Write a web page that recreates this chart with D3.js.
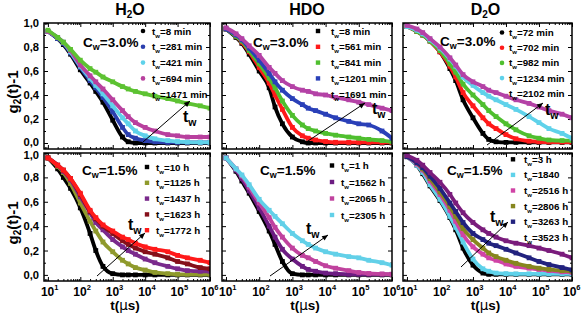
<!DOCTYPE html>
<html><head><meta charset="utf-8">
<script src="https://cdn.jsdelivr.net/npm/d3@7"></script>
<style>
body{margin:0;background:#fff}
svg{display:block}
text{font-family:"Liberation Sans",Arial,sans-serif;font-weight:bold;fill:#000}
</style>
</head><body>
<svg id="c" width="584" height="318"></svg>
<script>
// ---------------- DATA ----------------
const tValues = [10,20,30,50,100,200,300,500,1000,2000,3000,5000,1e4,2e4,5e4,1e5,2e5,5e5,1e6];
const xTickDecades = [10,100,1000,1e4,1e5,1e6];
const xTickExponents = ["1","2","3","4","5","6"];
const yTickValues = [0,0.2,0.4,0.6,0.8,1.0];
const yTickLabels = ["0,0","0,2","0,4","0,6","0,8","1,0"];
const solventTitles = [["H","2","O"],["HDO","",""],["D","2","O"]];
const concentrationLabels = ["3.0%","3.0%","3.0%","1.5%","1.5%","1.5%"];

// H2O, Cw = 3.0%
const h2o30Labels = ["8 min","281 min","421 min","694 min","1471 min"];
const h2o30Colors = ["#000000","#2b3fae","#5fd2ea","#b8409e","#5dc232"];
const h2o30Values = [
  [0.93,0.87,0.82,0.74,0.61,0.50,0.43,0.34,0.19,0.05,0.01,0.0,0,0,0,0,0,0,0],
  [0.93,0.87,0.83,0.75,0.63,0.52,0.46,0.38,0.26,0.13,0.07,0.04,0.02,0.01,0.005,0.005,0.005,0.005,0.005],
  [0.93,0.88,0.84,0.76,0.64,0.54,0.48,0.41,0.31,0.21,0.16,0.10,0.06,0.035,0.02,0.012,0.008,0.005,0.005],
  [0.93,0.88,0.84,0.77,0.65,0.56,0.51,0.45,0.36,0.27,0.22,0.17,0.13,0.10,0.07,0.06,0.05,0.05,0.05],
  [0.94,0.88,0.84,0.78,0.69,0.62,0.59,0.55,0.51,0.47,0.45,0.43,0.41,0.39,0.37,0.35,0.33,0.31,0.29]
];
// HDO, Cw = 3.0%
const hdo30Labels = ["8 min","561 min","841 min","1201 min","1691 min"];
const hdo30Colors = ["#000000","#ff1a1a","#4fbf2f","#2a40b8","#b442a6"];
const hdo30Values = [
  [0.95,0.88,0.83,0.74,0.60,0.46,0.30,0.16,0.05,0.01,0,0,0,0,0,0,0,0,0],
  [0.95,0.89,0.84,0.76,0.63,0.50,0.40,0.28,0.13,0.06,0.04,0.025,0.012,0.006,0.005,0.005,0.005,0.005,0.005],
  [0.95,0.89,0.85,0.77,0.66,0.54,0.46,0.35,0.23,0.15,0.12,0.10,0.08,0.065,0.05,0.04,0.03,0.02,0.01],
  [0.95,0.90,0.86,0.79,0.69,0.58,0.51,0.44,0.37,0.32,0.29,0.27,0.24,0.21,0.18,0.16,0.15,0.10,0.04],
  [0.96,0.91,0.87,0.81,0.73,0.63,0.58,0.52,0.47,0.44,0.43,0.41,0.40,0.38,0.36,0.34,0.32,0.29,0.27]
];
// D2O, Cw = 3.0%
const d2o30Labels = ["72 min","702 min","982 min","1234 min","2102 min"];
const d2o30Colors = ["#000000","#ff1a1a","#4fbf2f","#5fd2ea","#b442a6"];
const d2o30Values = [
  [0.97,0.93,0.90,0.85,0.76,0.62,0.52,0.36,0.21,0.08,0.03,0.01,0.005,0.005,0.005,0.005,0.005,0.005,0.005],
  [0.97,0.93,0.90,0.85,0.76,0.64,0.55,0.42,0.31,0.21,0.16,0.12,0.07,0.035,0.015,0.01,0.008,0.008,0.008],
  [0.97,0.93,0.90,0.85,0.77,0.66,0.59,0.49,0.40,0.32,0.27,0.22,0.16,0.11,0.06,0.04,0.025,0.02,0.02],
  [0.97,0.94,0.91,0.86,0.79,0.70,0.64,0.55,0.48,0.42,0.39,0.36,0.32,0.28,0.22,0.17,0.12,0.08,0.04],
  [0.98,0.95,0.92,0.87,0.80,0.71,0.65,0.57,0.51,0.47,0.44,0.42,0.39,0.36,0.33,0.30,0.27,0.24,0.21]
];
// H2O, Cw = 1.5%
const h2o15Labels = ["10 h","1125 h","1437 h","1623 h","1772 h"];
const h2o15Colors = ["#000000","#8f9a2c","#7a2a8c","#85101a","#ff1a1a"];
const h2o15Values = [
  [0.96,0.87,0.80,0.71,0.55,0.34,0.20,0.07,0.01,0,0,0,0,0,0,0,0,0,0],
  [0.96,0.89,0.84,0.75,0.59,0.44,0.36,0.27,0.19,0.12,0.09,0.06,0.04,0.02,0.01,0.005,0.005,0.005,0.005],
  [0.96,0.90,0.85,0.78,0.64,0.51,0.43,0.37,0.29,0.23,0.20,0.17,0.13,0.10,0.07,0.05,0.035,0.03,0.03],
  [0.96,0.90,0.86,0.79,0.66,0.52,0.46,0.40,0.34,0.28,0.25,0.22,0.19,0.17,0.14,0.11,0.09,0.06,0.05],
  [0.96,0.90,0.86,0.79,0.67,0.53,0.47,0.41,0.36,0.31,0.29,0.26,0.23,0.21,0.19,0.16,0.14,0.12,0.10]
];
// HDO, Cw = 1.5%
const hdo15Labels = ["1 h","1562 h","2065 h","2305 h"];
const hdo15Colors = ["#000000","#6c1c82","#c0429e","#62d0e8"];
const hdo15Values = [
  [0.96,0.85,0.77,0.67,0.52,0.36,0.25,0.11,0.01,0,0,0,0,0,0,0,0,0,0],
  [0.96,0.86,0.79,0.69,0.55,0.40,0.31,0.21,0.13,0.07,0.045,0.03,0.015,0.01,0.005,0.005,0.005,0.005,0.005],
  [0.96,0.87,0.81,0.72,0.59,0.47,0.39,0.31,0.22,0.16,0.14,0.11,0.075,0.055,0.035,0.02,0.012,0.008,0.005],
  [0.96,0.87,0.82,0.74,0.62,0.53,0.48,0.42,0.34,0.28,0.25,0.22,0.19,0.17,0.15,0.14,0.12,0.10,0.08]
];
// D2O, Cw = 1.5%
const d2o15Labels = ["3 h","1840","2516 h","2806 h","3263 h","3523 h"];
const d2o15Colors = ["#000000","#5fd2ea","#d044a6","#86861e","#22227e","#7a1c7c"];
const d2o15Values = [
  [0.97,0.90,0.83,0.73,0.61,0.47,0.37,0.22,0.08,0.015,0.005,0.005,0.005,0.005,0.005,0.005,0.005,0.005,0.005],
  [0.97,0.90,0.84,0.74,0.62,0.48,0.39,0.27,0.13,0.05,0.03,0.015,0.01,0.008,0.008,0.008,0.008,0.008,0.008],
  [0.97,0.91,0.86,0.77,0.66,0.53,0.44,0.33,0.23,0.17,0.14,0.12,0.09,0.07,0.055,0.045,0.035,0.025,0.02],
  [0.97,0.92,0.87,0.79,0.68,0.56,0.48,0.38,0.29,0.22,0.18,0.15,0.12,0.095,0.07,0.055,0.045,0.035,0.03],
  [0.97,0.92,0.88,0.81,0.71,0.59,0.52,0.43,0.34,0.29,0.26,0.24,0.21,0.18,0.14,0.11,0.085,0.06,0.04],
  [0.98,0.94,0.90,0.84,0.76,0.66,0.59,0.51,0.43,0.37,0.34,0.31,0.28,0.26,0.24,0.22,0.20,0.17,0.14]
];

// ---------------- LAYOUT ----------------
const panels = [
  {L:44, T:23, W:166, H:126, labels:h2o30Labels, colors:h2o30Colors, values:h2o30Values,
   leg:{mx:143, tx:152, y0:31, dy:15.8, noLast:true, dot:true}, cw:{x:83, y:47}, arrow:[143,142,190,101], tw:[183,122], ylab:true, xlab:false},
  {L:222, T:23, W:170, H:126, labels:hdo30Labels, colors:hdo30Colors, values:hdo30Values,
   leg:{mx:318, tx:331, y0:31, dy:15.8, noLast:true, dot:false}, cw:{x:253, y:47}, arrow:[305,143,365,103], tw:[372,114], ylab:false, xlab:false},
  {L:403, T:23, W:169, H:126, labels:d2o30Labels, colors:d2o30Colors, values:d2o30Values,
   leg:{mx:502, tx:509, y0:32.5, dy:15.2, noLast:true, dot:true}, cw:{x:440, y:46}, arrow:[487,145,543,103], tw:[545,115], ylab:false, xlab:false},
  {L:44, T:153, W:166, H:128, labels:h2o15Labels, colors:h2o15Colors, values:h2o15Values,
   leg:{mx:147, tx:156, y0:167, dy:15.8, noLast:false, dot:false}, cw:{x:82, y:175}, arrow:[97,276,145,233], tw:[128,230], ylab:true, xlab:true},
  {L:222, T:153, W:170, H:128, labels:hdo15Labels, colors:hdo15Colors, values:hdo15Values,
   leg:{mx:332, tx:341, y0:165.5, dy:16.5, noLast:false, dot:false}, cw:{x:260, y:175}, arrow:[270,276,328,235], tw:[306,234], ylab:false, xlab:true},
  {L:403, T:153, W:169, H:128, labels:d2o15Labels, colors:d2o15Colors, values:d2o15Values,
   leg:{mx:513, tx:524, y0:159.3, dy:15.6, noLast:true, dot:false}, cw:{x:447, y:175}, arrow:[461,267,508,222], tw:[490,222], ylab:false, xlab:true}
];

const svg = d3.select("#c");
const defs = svg.append("defs");

panels.forEach((p, pi) => {
  const x = d3.scaleLog().domain([Math.pow(10,0.88), 1e6]).range([p.L, p.L + p.W]);
  const y = d3.scaleLinear().domain([-0.05, 1.0]).range([p.T + p.H, p.T]);
  const g = svg.append("g");

  defs.append("clipPath").attr("id","clip"+pi).append("rect")
    .attr("x",p.L).attr("y",p.T).attr("width",p.W).attr("height",p.H);

  const minorX = [];
  for (let e = 0; e <= 5; e++) for (let m = 2; m <= 9; m++) {
    const v = m * Math.pow(10,e);
    if (v > x.domain()[0] && v < 1e6) minorX.push(v);
  }
  const minorY = [0.1,0.3,0.5,0.7,0.9];

  const axB = d3.axisBottom(x).tickValues(xTickDecades).tickSize(-4).tickFormat("");
  const axT = d3.axisTop(x).tickValues(xTickDecades).tickSize(-4).tickFormat("");
  const axBm = d3.axisBottom(x).tickValues(minorX).tickSize(-2).tickFormat("");
  const axTm = d3.axisTop(x).tickValues(minorX).tickSize(-2).tickFormat("");
  const axL = d3.axisLeft(y).tickValues(yTickValues).tickSize(-4).tickFormat("");
  const axR = d3.axisRight(y).tickValues(yTickValues).tickSize(-4).tickFormat("");
  const axLm = d3.axisLeft(y).tickValues(minorY).tickSize(-2).tickFormat("");
  const axRm = d3.axisRight(y).tickValues(minorY).tickSize(-2).tickFormat("");

  [[axB,`translate(0,${p.T+p.H})`],[axBm,`translate(0,${p.T+p.H})`],
   [axT,`translate(0,${p.T})`],[axTm,`translate(0,${p.T})`],
   [axL,`translate(${p.L},0)`],[axLm,`translate(${p.L},0)`],
   [axR,`translate(${p.L+p.W},0)`],[axRm,`translate(${p.L+p.W},0)`]].forEach(([ax,tr]) => {
    const a = g.append("g").attr("transform",tr).call(ax);
    a.select(".domain").remove();
    a.selectAll("line").attr("stroke","#000").attr("stroke-width",1);
  });

  // data
  const dg = g.append("g").attr("clip-path",`url(#clip${pi})`);
  const line = d3.line().x(d => x(d[0])).y(d => y(d[1])).curve(d3.curveMonotoneX);
  p.values.forEach((vals, si) => {
    const pts = tValues.map((t,i) => [t, vals[i]]);
    dg.append("path").attr("d", line(pts)).attr("fill","none")
      .attr("stroke", p.colors[si]).attr("stroke-width", 3.8).attr("stroke-linejoin","round");
    dg.selectAll(null).data(pts).enter().append("rect")
      .attr("x", d => x(d[0]) - 2.4).attr("y", d => y(d[1]) - 2.4)
      .attr("width", 4.8).attr("height", 4.8).attr("fill", p.colors[si]);
  });

  // frame
  g.append("rect").attr("x",p.L).attr("y",p.T).attr("width",p.W).attr("height",p.H)
    .attr("fill","none").attr("stroke","#000").attr("stroke-width",1.5);

  if (p.ylab) {
    const top = pi < 3;
    g.selectAll(null).data(yTickValues).enter().append("text")
      .attr("x", p.L - 5)
      .attr("y", d => y(d) + 4 + (top && d === 0 ? -1.5 : 0) + (!top && d === 1 ? 1.5 : 0))
      .attr("text-anchor","end").attr("font-size",11.2)
      .text((d,i) => yTickLabels[i]);
    const cy = p.T + p.H/2 + 6;
    const yl = g.append("text").attr("transform",`translate(18,${cy}) rotate(-90)`)
      .attr("text-anchor","middle").attr("font-size",15);
    yl.append("tspan").text("g");
    yl.append("tspan").attr("font-size",10).attr("dy",3).text("2");
    yl.append("tspan").attr("dy",-3).text("(t)-1");
  }
  if (p.xlab) {
    xTickDecades.forEach((d,i) => {
      const tx = g.append("text").attr("x", x(d) - (i===5 ? 9 : 7)).attr("y", p.T + p.H + 15)
        .attr("text-anchor","start").attr("font-size",12);
      tx.append("tspan").text("10");
      tx.append("tspan").attr("font-size",7.5).attr("dy",-6).text(xTickExponents[i]);
    });
    const xl = g.append("text").attr("x", p.L + p.W/2 - 2).attr("y", 310)
      .attr("text-anchor","middle").attr("font-size",13.5);
    xl.append("tspan").text("t(");
    xl.append("tspan").attr("font-family","'DejaVu Sans',sans-serif").attr("font-weight","normal").text("\u03bc");
    xl.append("tspan").text("s)");
  }
  if (pi < 3) {
    const tt = solventTitles[pi];
    const t = g.append("text").attr("x", p.L + p.W/2 + (pi===0?3:(pi===2?-2:0))).attr("y", 15)
      .attr("text-anchor","middle").attr("font-size",16);
    t.append("tspan").text(tt[0]);
    if (tt[1]) {
      t.append("tspan").attr("font-size",10).attr("dy",3).text(tt[1]);
      t.append("tspan").attr("dy",-3).text(tt[2]);
    }
  }
  const cw = g.append("text").attr("x", p.cw.x).attr("y", p.cw.y).attr("font-size",13.5);
  cw.append("tspan").text("C");
  cw.append("tspan").attr("font-size",9).attr("dy",3).text("w");
  cw.append("tspan").attr("dy",-3).text("=" + concentrationLabels[pi]);

  p.labels.forEach((lab, i) => {
    const ly = p.leg.y0 + i * p.leg.dy;
    const last = i === p.labels.length - 1;
    if (!(p.leg.noLast && last)) {
      if (p.leg.dot) {
        g.append("circle").attr("cx", p.leg.mx).attr("cy", ly).attr("r", 2.3).attr("fill", p.colors[i]);
      } else {
        g.append("rect").attr("x", p.leg.mx - 2.2).attr("y", ly - 2.2).attr("width",4.4).attr("height",4.4)
          .attr("fill", p.colors[i]);
      }
    }
    const lt = g.append("text").attr("x", p.leg.tx).attr("y", ly + 3.5).attr("font-size",9.8);
    lt.append("tspan").text("t");
    lt.append("tspan").attr("font-size",6).attr("dy",3).text("w");
    lt.append("tspan").attr("dy",-3).text("=" + lab);
  });

  const [x1,y1,x2,y2] = p.arrow;
  g.append("line").attr("x1",x1).attr("y1",y1).attr("x2",x2).attr("y2",y2)
    .attr("stroke","#000").attr("stroke-width",1);
  const ang = Math.atan2(y2-y1, x2-x1);
  const hl = 6, hw = 2.6;
  const bx = x2 - hl*Math.cos(ang), by = y2 - hl*Math.sin(ang);
  g.append("polygon").attr("points",
    `${x2},${y2} ${bx + hw*Math.sin(ang)},${by - hw*Math.cos(ang)} ${bx - hw*Math.sin(ang)},${by + hw*Math.cos(ang)}`)
    .attr("fill","#000");
  const tw = g.append("text").attr("x", p.tw[0]).attr("y", p.tw[1]).attr("font-size",16);
  tw.append("tspan").text("t");
  tw.append("tspan").attr("font-size",10.5).attr("dy",4).text("w");
});
</script>
</body></html>
